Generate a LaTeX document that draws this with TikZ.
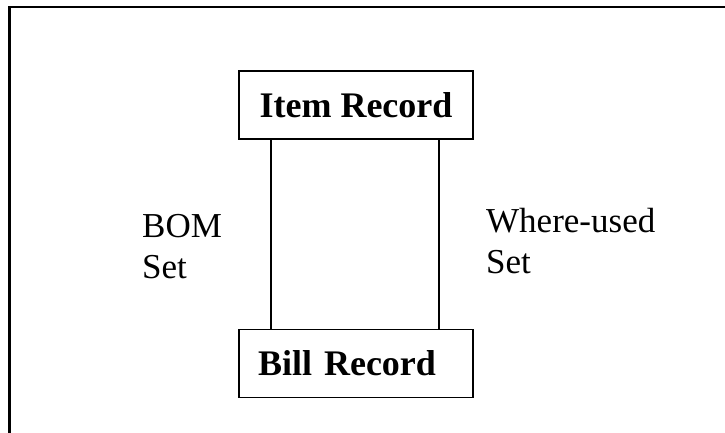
\documentclass[tikz,border=0pt]{standalone}
\usepackage{fontspec}
\setmainfont{Liberation Serif}
\begin{document}
\begin{tikzpicture}[x=1pt,y=-1pt,
  record/.style={draw, line width=1.4pt, minimum width=234pt, minimum height=68pt,
                 inner sep=0pt, font=\fontsize{36}{41}\selectfont\bfseries},
  setlabel/.style={align=left, inner sep=0pt, font=\fontsize{35}{41}\selectfont},
  link/.style={line width=1.4pt}]
  \useasboundingbox (0,0) rectangle (725,433);
  % page frame (left and top edges only)
  \draw[line width=2.5pt] (9.5,433) -- (9.5,7) -- (725,7);
  % record boxes
  \node[record] (item) at (356,105) {Item Record};
  \node[record, text width=196pt, inner xsep=19pt, align=left] (bill) at (356,363.5) {Bill Record};
  % set connectors
  \draw[link] ([xshift=-85pt]item.south) -- ([xshift=-85pt]bill.north);
  \draw[link] ([xshift=83pt]item.south) -- ([xshift=83pt]bill.north);
  % set labels
  \node[setlabel, anchor=north west] (bom) at (142,214) {BOM\\Set};
  \node[setlabel, anchor=north west] (where) at (486,208) {Where-used\\Set};
\end{tikzpicture}
\end{document}
